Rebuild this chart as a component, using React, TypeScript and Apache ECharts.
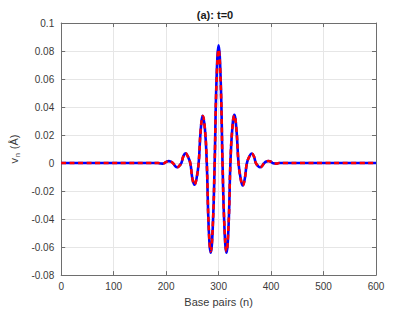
import React, { useEffect, useRef } from "react";
import * as echarts from "echarts";

// Base-pair positions (n) of the sampled points
const positions = [
  0, 150, 170, 180, 185, 189, 193, 197, 201, 205, 209, 213, 217, 221, 225, 229,
  233, 237, 241, 246, 250, 254, 258, 262, 266, 270, 274, 277.5, 281, 285, 289,
  292.5, 296, 300, 304, 307.5, 311, 315, 319, 322.5, 326, 330, 334, 338, 342,
  346, 350, 354, 359, 363, 367, 371, 375, 379, 383, 387, 391, 395, 399, 403,
  407, 411, 415, 425, 450, 600,
];

// Displacement v_n (Å), blue solid curve
const blueValues = [
  0, 0, 0, 0, 0, -0.0003, -0.0004, 0, 0.001, 0.0014, 0.001, 0, -0.002, -0.003,
  -0.002, 0, 0.005, 0.007, 0.005, 0, -0.011, -0.0155, -0.011, 0, 0.024, 0.0338,
  0.024, 0, -0.045, -0.064, -0.045, 0, 0.059, 0.084, 0.059, 0, -0.045, -0.064,
  -0.045, 0, 0.024, 0.0345, 0.024, 0, -0.011, -0.016, -0.011, 0, 0.005, 0.0068,
  0.005, 0, -0.002, -0.003, -0.002, 0, 0.0011, 0.0015, 0.0011, 0, -0.0003,
  -0.0004, 0, 0, 0, 0,
];

// Displacement v_n (Å), red dashed curve
const redValues = [
  0, 0, 0, 0, 0, -0.0003, -0.0004, 0, 0.001, 0.0014, 0.001, 0, -0.002, -0.003,
  -0.002, 0, 0.005, 0.007, 0.005, 0, -0.011, -0.0155, -0.011, 0, 0.024, 0.0335,
  0.024, 0, -0.044, -0.063, -0.044, 0, 0.057, 0.081, 0.057, 0, -0.044, -0.063,
  -0.044, 0, 0.024, 0.034, 0.024, 0, -0.011, -0.016, -0.011, 0, 0.005, 0.0068,
  0.005, 0, -0.002, -0.003, -0.002, 0, 0.0011, 0.0015, 0.0011, 0, -0.0003,
  -0.0004, 0, 0, 0, 0,
];

const titleText = "(a): t=0";
const xLabel = "Base pairs (n)";

const FONT = "'Liberation Sans', Arial, Helvetica, sans-serif";
const AXIS_COLOR = "#6e6e6e";
const TEXT_COLOR = "#3a3a3a";
const GRID_COLOR = "#e6e6e6";

export default function App() {
  const ref = useRef<HTMLDivElement>(null);

  useEffect(() => {
    if (!ref.current) return;
    const chart = echarts.init(ref.current, undefined, { renderer: "svg" });

    const axisBase = {
      type: "value" as const,
      axisLine: { show: true, onZero: false, lineStyle: { color: AXIS_COLOR, width: 1 } },
      axisTick: { show: true, inside: true, length: 4, lineStyle: { color: AXIS_COLOR } },
    };

    chart.setOption({
      animation: false,
      backgroundColor: "#ffffff",
      grid: { left: 54, right: 39, top: 23, bottom: 35, containLabel: false },
      xAxis: [
        {
          ...axisBase,
          position: "bottom",
          min: 0,
          max: 600,
          interval: 100,
          axisLabel: { color: TEXT_COLOR, fontFamily: FONT, fontSize: 10, margin: 6 },
          splitLine: { show: true, lineStyle: { color: GRID_COLOR, width: 1 } },
          name: xLabel,
          nameLocation: "middle",
          nameGap: 20,
          nameTextStyle: { color: TEXT_COLOR, fontFamily: FONT, fontSize: 11 },
        },
        {
          ...axisBase,
          position: "top",
          min: 0,
          max: 600,
          interval: 100,
          axisLabel: { show: false },
          splitLine: { show: false },
        },
      ],
      yAxis: [
        {
          ...axisBase,
          position: "left",
          min: -0.08,
          max: 0.1,
          interval: 0.02,
          axisLabel: { color: TEXT_COLOR, fontFamily: FONT, fontSize: 10, margin: 7 },
          splitLine: { show: true, lineStyle: { color: GRID_COLOR, width: 1 } },
          name: "v{sub|n} (Å)",
          nameLocation: "middle",
          nameGap: 32,
          nameRotate: 90,
          nameTextStyle: {
            color: TEXT_COLOR,
            fontFamily: FONT,
            fontSize: 11,
            rich: {
              sub: { fontSize: 7, fontFamily: FONT, color: TEXT_COLOR, padding: [7, 1, 0, 1] },
            },
          },
        },
        {
          ...axisBase,
          position: "right",
          min: -0.08,
          max: 0.1,
          interval: 0.02,
          axisLabel: { show: false },
          splitLine: { show: false },
        },
      ],
      graphic: [
        {
          type: "text",
          x: 215,
          y: 15,
          style: {
            text: titleText,
            textAlign: "center",
            textVerticalAlign: "middle",
            font: `bold 11px ${FONT}`,
            fill: "#1a1a1a",
          },
        },
      ],
      series: [
        {
          type: "line",
          data: positions.map((x, i) => [x, blueValues[i]]),
          showSymbol: false,
          smooth: 0.45,
          lineStyle: { color: "#0000ff", width: 2.6 },
          z: 2,
        },
        {
          type: "line",
          data: positions.map((x, i) => [x, redValues[i]]),
          showSymbol: false,
          smooth: 0.45,
          lineStyle: { color: "#ff0000", width: 2.6, type: [5, 3.5] },
          z: 3,
        },
      ],
    });

    return () => chart.dispose();
  }, []);

  return (
    <div
      ref={ref}
      style={{ position: "fixed", left: 0, top: 0, width: 415, height: 312, background: "#fff" }}
    />
  );
}
